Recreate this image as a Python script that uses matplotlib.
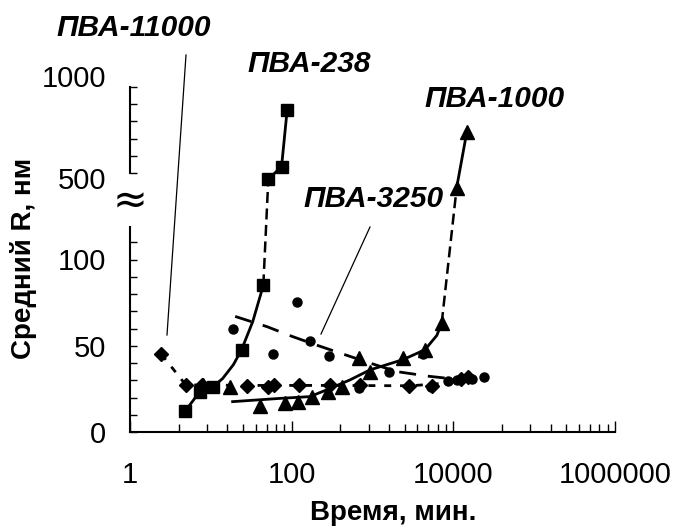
import numpy as np
import matplotlib
matplotlib.use("Agg")
import matplotlib.pyplot as plt
from matplotlib.ticker import FixedLocator, FixedFormatter, NullFormatter
from matplotlib.transforms import ScaledTranslation
from matplotlib.lines import Line2D

plt.rcParams["font.family"] = ["Liberation Sans", "DejaVu Sans"]

W, H = 675, 532

# ПВА-238 (squares)
sq_x = [4.8, 7.3, 10.5, 24, 44.6, 51.4, 75, 88]
sq_r = [12, 23.4, 26, 47.7, 85, 465, 539, 868]
fit238_x = [4.8, 7.3, 10.5, 14, 19, 24, 33, 44.6]
fit238_r = [12, 23.4, 26, 31, 39, 47.7, 64, 85]

# ПВА-1000 (triangles)
tri_x = [8, 17.5, 41, 83, 121, 177, 284, 416, 687, 930, 2400, 4460, 7180, 11000, 14650]
tri_r = [27, 26.3, 15.1, 16.7, 17.6, 20.5, 23.4, 26.3, 42.8, 35, 42.8, 47.7, 63.2, 417, 737]
fit1000_x = [18.6, 78, 168, 270, 527, 930, 2400, 4460, 6250, 7180]
fit1000_r = [17.6, 19.6, 20.5, 24.4, 30.2, 36, 42, 47.7, 56, 63.2]

# ПВА-3250 (circles)
cir_x = [19, 58, 115, 170, 290, 690, 1600, 4200, 5300, 8700, 11000, 17000, 24000]
cir_r = [59.5, 45.5, 75.5, 53, 44, 25.5, 35, 45, 26, 29.5, 30, 31, 31.6]
fit3250_x = [20, 50, 100, 200, 400, 1000, 2000, 5000, 9000]
fit3250_r = [67, 61, 55.5, 50.5, 45.7, 39.5, 35, 32.3, 31]

# ПВА-11000 (diamonds)
dia_x = [2.45, 4.9, 7.7, 27.7, 51.5, 60, 123, 300, 700, 2800, 5400, 12500, 15000]
dia_r = [45, 27.3, 27.3, 26.7, 26.3, 27.3, 27.3, 27.3, 27.5, 26.5, 26.8, 30.5, 31.8]
fit11000_x = [2.45, 4.9, 30, 300, 3000, 9000]
fit11000_r = [45, 27.3, 27, 27, 26.8, 28.5]

x_major = [1, 100, 1e4, 1e6]
x_labels = ["1", "100", "10000", "1000000"]
y_ticks = list(range(0, 120, 10)) + list(range(500, 1100, 100))
y_labels = {0: "0", 50: "50", 100: "100", 500: "500", 1000: "1000"}


def fwd(r):
    r = np.asarray(r, float)
    return np.where(r <= 120, r, np.maximum(120, 100 + r / 10))


def inv(p):
    p = np.asarray(p, float)
    return np.where(p <= 120, p, (p - 100) * 10)


def fp(x, y):  # figure pixel (from top-left) -> figure fraction
    return x / W, 1 - y / H


fig = plt.figure(figsize=(W / 100, H / 100), dpi=100)
ax = fig.add_axes([130 / W, 100 / H, 485 / W, 345 / H])
ax.set_xscale("log")
ax.set_yscale("function", functions=(fwd, inv))

K = "black"
LW = 2.0
# fitted curves / connectors
ax.plot(fit238_x, fit238_r, color=K, lw=LW)
ax.plot(sq_x[4:6], sq_r[4:6], color=K, lw=1.8, ls=(0, (4.4, 2.2)))
ax.plot(sq_x[5:], sq_r[5:], color=K, lw=LW)
ax.plot(fit1000_x, fit1000_r, color=K, lw=LW)
ax.plot(tri_x[12:14], tri_r[12:14], color=K, lw=1.8, ls=(0, (4.4, 2.2)))
ax.plot(tri_x[13:], tri_r[13:], color=K, lw=LW)
ax.plot(fit3250_x, fit3250_r, color=K, lw=LW, ls=(0, (6.1, 4.3)))
ax.plot(fit11000_x, fit11000_r, color=K, lw=LW, ls=(0, (2.5, 3.2)))

# markers
ax.plot(sq_x, sq_r, ls="none", marker="s", ms=8.5, color=K, zorder=5)
ax.plot(tri_x, tri_r, ls="none", marker="^", ms=9.5, color=K, zorder=5)
ax.plot(cir_x, cir_r, ls="none", marker="o", ms=6.5, color=K, zorder=5)
ax.plot(dia_x, dia_r, ls="none", marker="D", ms=7, color=K, zorder=5)

ax.set_xlim(1, 1e6)
ax.set_ylim(0, 1000)

# broken y axis
for s in ["top", "right", "left"]:
    ax.spines[s].set_visible(False)
ax.spines["bottom"].set_linewidth(1.5)
yt = ax.get_yaxis_transform()
ax.add_line(Line2D([0, 0], [0, 119], color=K, lw=1.5, transform=yt, clip_on=False))
ax.add_line(Line2D([0, 0], [500, 1000], color=K, lw=1.5, transform=yt, clip_on=False))
ax.text(0, 0.668, "≈", transform=ax.transAxes, ha="center", va="center", fontsize=30,
        family="DejaVu Sans")

ax.xaxis.set_major_locator(FixedLocator(x_major))
ax.xaxis.set_major_formatter(FixedFormatter(x_labels))
minors = [b * k * k for b in (1, 100, 1e4) for k in range(2, 10)]
ax.xaxis.set_minor_locator(FixedLocator(minors))
ax.xaxis.set_minor_formatter(NullFormatter())
ax.yaxis.set_major_locator(FixedLocator(y_ticks))
ax.yaxis.set_major_formatter(FixedFormatter([y_labels.get(v, "") for v in y_ticks]))
ax.yaxis.set_minor_locator(FixedLocator([]))

ax.tick_params(axis="x", which="major", direction="in", length=8, width=1, labelsize=21, pad=21)
ax.tick_params(axis="x", which="minor", direction="in", length=5.8, width=1)
ax.tick_params(axis="y", which="major", direction="in", length=5, width=1, labelsize=21, pad=17)

# nudge the upper y labels as in the reference
ticks = ax.yaxis.get_major_ticks()
for t, v in zip(ticks, y_ticks):
    if v == 1000:
        t.label1.set_transform(t.label1.get_transform() + ScaledTranslation(0, 0.11, fig.dpi_scale_trans))
    elif v == 500:
        t.label1.set_transform(t.label1.get_transform() + ScaledTranslation(0, -0.05, fig.dpi_scale_trans))

# axis titles
fig.text(*fp(393, 513), "Время, мин.", ha="center", va="center", fontsize=20, fontweight="bold")
fig.text(*fp(24, 258), "Средний R, нм", ha="center", va="center", rotation=90,
         fontsize=20, fontweight="bold")

# series labels and leaders
lab = dict(ha="center", va="center", fontsize=21.5, fontweight="bold", style="italic")
fig.text(*fp(134, 28), "ПВА-11000", **lab)
fig.text(*fp(309, 64), "ПВА-238", **lab)
fig.text(*fp(495, 99), "ПВА-1000", **lab)
fig.text(*fp(374, 199), "ПВА-3250", **lab)
for (x0, y0), (x1, y1) in [((186, 55), (167, 335)), ((370, 227), (321, 334))]:
    a, b = fp(x0, y0)
    c, d = fp(x1, y1)
    fig.add_artist(Line2D([a, c], [b, d], color=K, lw=0.9, transform=fig.transFigure))

fig.savefig("out.png", dpi=100)
